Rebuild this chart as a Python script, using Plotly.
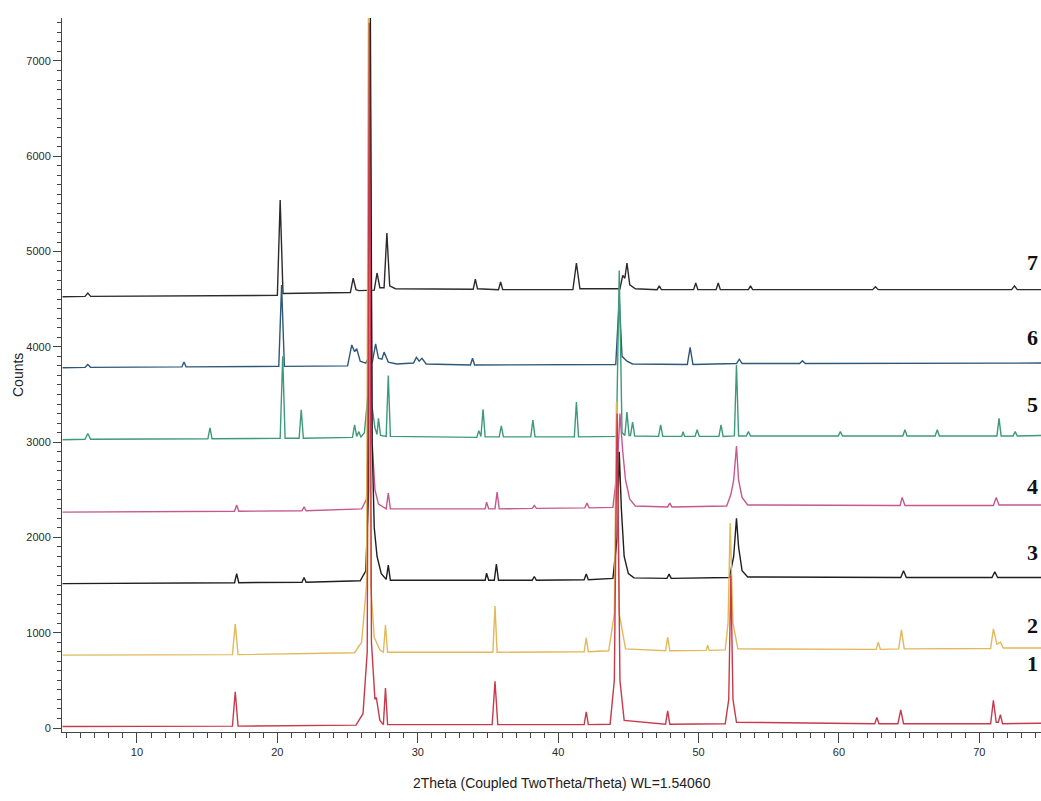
import plotly.graph_objects as go

# ---- data: (2theta, counts) vertices per pattern ----
pattern_1 = [(4.7,15),(16.8,20),(17.0,380),(17.2,20),(25.6,30),(26.1,150),(26.4,800),(26.55,7400),(26.7,900),
             (26.95,300),(27.05,320),(27.3,80),(27.55,35),(27.7,420),(27.85,35),(35.3,35),(35.5,490),(35.7,35),
             (41.85,35),(42.0,170),(42.15,35),(43.7,40),(44.0,500),(44.2,3300),(44.4,500),(44.7,80),(47.65,40),
             (47.8,180),(47.95,40),(51.9,45),(52.15,300),(52.3,1600),(52.45,300),(52.7,60),(62.55,45),(62.7,110),
             (62.85,45),(64.2,45),(64.4,190),(64.6,45),(70.8,45),(71.0,290),(71.2,60),(71.35,60),(71.5,140),
             (71.65,45),(74.4,50)]
pattern_2 = [(4.7,765),(16.8,770),(17.0,1090),(17.2,770),(25.5,790),(26.0,900),(26.35,1500),(26.5,8200),(26.65,1500),
             (26.9,950),(27.3,820),(27.55,795),(27.7,1080),(27.85,795),(35.35,795),(35.5,1280),(35.65,795),
             (41.85,800),(42.0,945),(42.15,800),(43.6,810),(44.0,1200),(44.15,3420),(44.35,1200),(44.8,830),
             (47.65,810),(47.8,955),(47.95,810),(50.55,815),(50.65,870),(50.75,815),(51.9,820),(52.1,1100),
             (52.25,2150),(52.45,1100),(52.8,830),(62.65,825),(62.8,900),(62.95,825),(64.25,830),(64.45,1030),
             (64.65,830),(70.8,835),(71.0,1040),(71.25,880),(71.5,900),(71.7,840),(74.4,840)]
pattern_3 = [(4.7,1515),(16.95,1525),(17.1,1620),(17.25,1525),(21.75,1530),(21.9,1580),(22.05,1530),(25.9,1545),
             (26.3,1650),(26.5,2500),(26.62,7600),(26.75,3000),(26.9,2100),(27.1,1800),(27.4,1620),(27.75,1560),
             (27.9,1710),(28.05,1550),(34.8,1550),(34.9,1625),(35.05,1550),(35.45,1550),(35.6,1720),(35.75,1550),
             (38.15,1550),(38.3,1590),(38.45,1550),(41.85,1555),(42.0,1615),(42.15,1555),(43.9,1570),(44.2,2000),
             (44.35,2900),(44.5,2300),(44.7,1800),(45.0,1620),(45.4,1575),(47.75,1570),(47.9,1615),(48.05,1570),
             (52.2,1580),(52.5,1800),(52.7,2200),(52.85,1900),(53.1,1650),(53.5,1585),(64.4,1580),(64.6,1650),
             (64.8,1580),(70.9,1580),(71.1,1640),(71.3,1580),(74.4,1580)]
pattern_4 = [(4.7,2265),(16.95,2275),(17.1,2340),(17.25,2275),(21.75,2280),(21.9,2320),(22.05,2280),(26.0,2300),
             (26.35,2400),(26.5,3500),(26.62,6500),(26.75,3000),(26.95,2500),(27.2,2350),(27.75,2300),(27.9,2465),
             (28.05,2300),(34.8,2300),(34.9,2370),(35.05,2300),(35.5,2300),(35.65,2475),(35.8,2300),(38.15,2305),
             (38.3,2335),(38.45,2305),(41.9,2310),(42.05,2360),(42.2,2310),(43.9,2315),(44.2,2700),(44.4,3300),
             (44.6,2900),(44.8,2600),(45.1,2400),(45.5,2330),(47.8,2320),(47.95,2360),(48.1,2320),(52.0,2330),
             (52.3,2450),(52.5,2600),(52.7,2960),(52.85,2600),(53.1,2420),(53.5,2340),(64.35,2335),(64.5,2420),
             (64.7,2335),(71.0,2335),(71.2,2420),(71.4,2340),(74.4,2340)]
pattern_5 = [(4.7,3025),(6.3,3030),(6.5,3090),(6.7,3030),(15.05,3035),(15.2,3150),(15.35,3035),(20.2,3040),
             (20.38,3900),(20.55,3040),(21.55,3040),(21.7,3340),(21.85,3040),(25.35,3050),(25.5,3180),(25.65,3060),
             (25.8,3110),(25.95,3055),(26.2,3100),(26.45,3500),(26.58,6900),(26.72,3400),(26.95,3150),(27.1,3080),
             (27.2,3250),(27.35,3070),(27.75,3060),(27.9,3700),(28.05,3060),(34.2,3050),(34.35,3120),(34.5,3060),
             (34.65,3345),(34.8,3055),(35.8,3055),(35.95,3170),(36.1,3055),(38.05,3055),(38.2,3230),(38.35,3055),
             (41.15,3055),(41.3,3420),(41.45,3055),(44.15,3060),(44.35,4800),(44.55,3100),(44.75,3070),(44.9,3315),
             (45.05,3070),(45.15,3070),(45.3,3210),(45.45,3065),(47.15,3060),(47.3,3180),(47.45,3060),(48.8,3060),
             (48.9,3110),(49.0,3060),(49.75,3060),(49.9,3130),(50.05,3060),(51.45,3060),(51.6,3180),(51.75,3060),
             (52.55,3065),(52.7,3810),(52.85,3065),(53.4,3065),(53.55,3110),(53.7,3065),(59.95,3065),(60.1,3110),
             (60.25,3065),(64.55,3065),(64.7,3130),(64.85,3065),(66.85,3065),(67.0,3130),(67.15,3065),(71.25,3065),
             (71.4,3250),(71.55,3065),(72.4,3065),(72.55,3110),(72.7,3065),(74.4,3070)]
pattern_6 = [(4.7,3780),(6.3,3785),(6.5,3815),(6.7,3785),(13.2,3790),(13.35,3840),(13.5,3790),(20.1,3795),
             (20.3,4650),(20.5,3795),(25.0,3800),(25.3,4020),(25.5,3950),(25.65,3980),(25.9,3850),(26.3,3830),
             (26.55,3900),(26.75,3830),(27.0,4030),(27.2,3880),(27.45,3870),(27.6,3945),(27.9,3840),(28.5,3820),
             (29.7,3830),(29.9,3890),(30.1,3850),(30.3,3880),(30.6,3820),(33.75,3810),(33.9,3880),(34.05,3810),
             (44.1,3815),(44.35,4500),(44.55,3900),(44.9,3850),(45.3,3820),(49.2,3815),(49.4,3995),(49.6,3815),
             (52.7,3825),(52.9,3870),(53.1,3825),(57.2,3825),(57.4,3855),(57.6,3825),(74.4,3830)]
pattern_7 = [(4.7,4525),(6.3,4530),(6.5,4565),(6.7,4530),(20.0,4540),(20.2,5540),(20.4,4560),(25.2,4570),
             (25.4,4720),(25.6,4600),(25.8,4590),(26.9,4595),(27.1,4775),(27.3,4620),(27.6,4620),(27.8,5195),
             (28.0,4640),(28.4,4610),(33.95,4605),(34.1,4710),(34.25,4610),(35.75,4600),(35.9,4680),(36.05,4600),
             (41.05,4600),(41.3,4880),(41.55,4610),(44.4,4610),(44.6,4750),(44.75,4720),(44.9,4880),(45.1,4650),
             (45.5,4610),(47.05,4600),(47.2,4640),(47.35,4600),(49.65,4600),(49.8,4670),(49.95,4600),(51.25,4600),
             (51.4,4670),(51.55,4600),(53.55,4600),(53.7,4640),(53.85,4600),(62.4,4600),(62.6,4630),(62.8,4600),
             (72.3,4600),(72.5,4640),(72.7,4600),(74.4,4600)]

patterns = [pattern_7, pattern_6, pattern_5, pattern_4, pattern_3, pattern_2, pattern_1]
pattern_colors = ["#2b2b2b", "#2f5878", "#3d9a78", "#c4588f", "#1e1e1e", "#e2b85c", "#c73a4c"]
pattern_names = ["7", "6", "5", "4", "3", "2", "1"]

label_text = ["1", "2", "3", "4", "5", "6", "7"]
label_y = [680, 1080, 1840, 2530, 3390, 4100, 4880]

x_title = "2Theta (Coupled TwoTheta/Theta) WL=1.54060"
y_title = "Counts"

fig = go.Figure()
for pts, col, nm in zip(patterns, pattern_colors, pattern_names):
    xs = [p[0] for p in pts]
    ys = [p[1] for p in pts]
    fig.add_trace(go.Scatter(x=xs, y=ys, mode="lines", name=nm,
                             line=dict(color=col, width=1.4), showlegend=False))

for t, yv in zip(label_text, label_y):
    fig.add_annotation(x=74.3, y=yv, xref="x", yref="y", text="<b>" + t + "</b>", showarrow=False,
                       xanchor="right", yanchor="middle",
                       font=dict(family="Liberation Serif", size=22, color="#111111"))

fig.add_annotation(x=40.3, y=0, xref="x", yref="paper", text=x_title, showarrow=False,
                   xanchor="center", yanchor="middle", yshift=-51,
                   font=dict(family="Liberation Sans", size=14, color="#222222"))
fig.add_annotation(x=0, y=0.5, xref="paper", yref="paper", text=y_title, showarrow=False,
                   textangle=-90, xanchor="center", yanchor="middle", xshift=-44,
                   font=dict(family="Liberation Sans", size=14, color="#222222"))

fig.update_layout(
    width=1041, height=801,
    margin=dict(l=62, r=0, t=18, b=69),
    paper_bgcolor="white", plot_bgcolor="white",
    font=dict(family="Liberation Sans", size=11, color="#2a2a2a"),
)
fig.update_xaxes(range=[4.66, 74.39], showgrid=False, zeroline=False, showline=True,
                 linecolor="#444444", linewidth=1, ticks="outside", ticklen=10, tickcolor="#444444",
                 tick0=0, dtick=10, tickfont=dict(size=11, color="#2a2a2a"),
                 minor=dict(dtick=1, ticks="outside", ticklen=5, tickcolor="#444444"))
fig.update_yaxes(range=[-42, 7451], showgrid=False, zeroline=False, showline=True,
                 linecolor="#444444", linewidth=1, ticks="outside", ticklen=8, tickcolor="#444444",
                 tick0=0, dtick=1000, tickfont=dict(size=11, color="#2a2a2a"),
                 minor=dict(dtick=100, ticks="outside", ticklen=4, tickcolor="#444444"))

fig.write_html("out.html", config={"displayModeBar": False},
               post_script="document.body.style.margin='0';document.body.style.overflow='hidden';")
